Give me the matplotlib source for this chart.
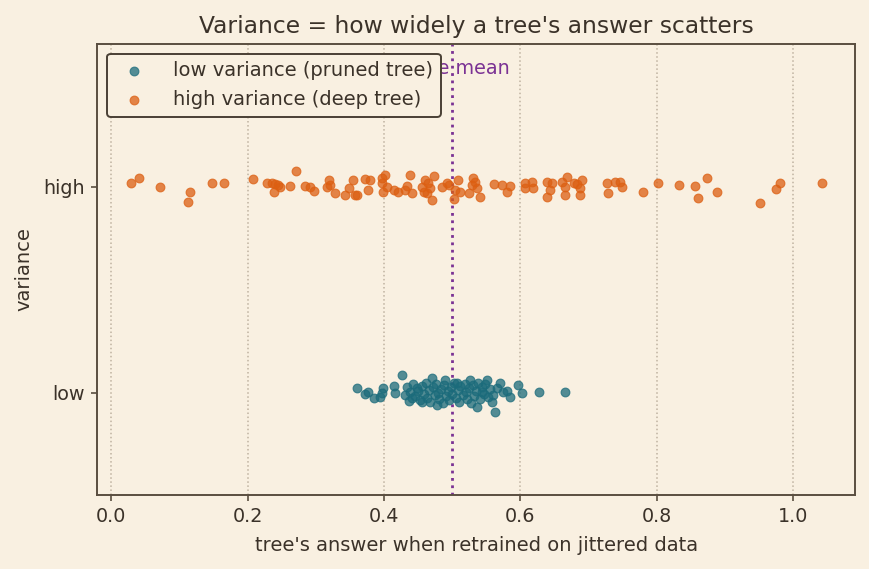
import numpy as np
import matplotlib
matplotlib.use("Agg")
from matplotlib import pyplot as plt

# tree answers (x) and vertical jitter
high_x = [0.029, 0.040, 0.071, 0.115, 0.112, 0.148, 0.165, 0.207, 0.228, 0.236,
          0.240, 0.245, 0.239, 0.248, 0.262, 0.271, 0.284, 0.292, 0.297, 0.319,
          0.321, 0.316, 0.328, 0.343, 0.348, 0.355, 0.358, 0.360, 0.372, 0.379,
          0.377, 0.397, 0.402, 0.397, 0.404, 0.399, 0.414, 0.421, 0.431, 0.438,
          0.441, 0.434, 0.456, 0.460, 0.463, 0.468, 0.470, 0.473, 0.465, 0.458,
          0.485, 0.492, 0.502, 0.504, 0.495, 0.509, 0.512, 0.524, 0.529, 0.531,
          0.536, 0.541, 0.534, 0.561, 0.573, 0.580, 0.585, 0.607, 0.617, 0.607,
          0.619, 0.639, 0.646, 0.644, 0.639, 0.661, 0.668, 0.666, 0.666, 0.678,
          0.683, 0.690, 0.688, 0.688, 0.727, 0.729, 0.739, 0.746, 0.749, 0.780,
          0.801, 0.832, 0.856, 0.874, 0.888, 0.860, 0.951, 0.975, 0.980, 1.043]
high_j = [0.021, 0.045, -0.001, -0.026, -0.071, 0.018, 0.018, 0.037, 0.021, 0.021,
          0.015, 0.010, -0.023, 0.001, 0.005, 0.078, 0.005, -0.001, -0.019, 0.034,
          0.010, -0.003, -0.031, -0.039, -0.006, 0.031, -0.039, -0.039, 0.037, 0.031,
          -0.015, 0.042, 0.058, 0.018, 0.001, -0.023, -0.015, -0.023, -0.015, 0.058,
          -0.031, 0.005, 0.001, 0.034, -0.031, -0.006, -0.063, 0.053, 0.018, -0.023,
          0.001, 0.018, -0.060, -0.015, 0.010, 0.034, -0.023, -0.031, 0.010, 0.042,
          -0.006, -0.047, 0.026, 0.015, 0.010, -0.023, 0.005, 0.018, 0.026, -0.006,
          -0.006, 0.026, 0.018, -0.015, -0.047, 0.026, 0.050, 0.001, -0.039, 0.018,
          0.015, 0.031, -0.039, -0.006, 0.018, -0.031, 0.026, 0.026, -0.001, -0.023,
          0.018, 0.010, 0.005, 0.042, -0.023, -0.055, -0.076, -0.011, 0.021, 0.021]

low_x = [0.360, 0.372, 0.377, 0.385, 0.394, 0.399, 0.397, 0.414, 0.416, 0.426,
         0.438, 0.441, 0.448, 0.456, 0.470, 0.478, 0.490, 0.507, 0.526, 0.551,
         0.570, 0.536, 0.558, 0.563, 0.585, 0.597, 0.602, 0.627, 0.666, 0.575,
         0.544, 0.430, 0.433, 0.437, 0.442, 0.445, 0.449, 0.452, 0.455, 0.458,
         0.461, 0.463, 0.466, 0.468, 0.471, 0.474, 0.476, 0.479, 0.481, 0.484,
         0.486, 0.488, 0.491, 0.493, 0.495, 0.498, 0.500, 0.503, 0.505, 0.508,
         0.510, 0.512, 0.515, 0.518, 0.520, 0.522, 0.525, 0.527, 0.530, 0.532,
         0.535, 0.538, 0.540, 0.543, 0.546, 0.548, 0.552, 0.555, 0.560, 0.565,
         0.580]
low_j = [0.023, -0.006, 0.006, -0.026, -0.018, 0.023, -0.002, 0.035, -0.002, 0.087,
         0.006, -0.026, 0.023, -0.042, 0.071, -0.058, 0.063, 0.047, 0.063, 0.063,
         0.047, -0.066, -0.042, -0.091, -0.018, 0.039, -0.002, 0.006, 0.006, 0.006,
         0.006, -0.010, 0.030, -0.040, 0.045, -0.015, 0.010, -0.035, 0.035, -0.005,
         0.050, -0.025, 0.015, -0.045, 0.030, -0.010, 0.045, 0.000, -0.030, 0.020,
         -0.050, 0.040, -0.015, 0.010, -0.035, 0.030, -0.005, 0.050, -0.025, 0.015,
         -0.045, 0.035, -0.010, 0.045, 0.005, -0.030, 0.025, -0.050, 0.040, -0.015,
         0.010, 0.050, -0.030, 0.030, -0.005, 0.045, -0.020, 0.020, -0.010, 0.025,
         0.010]

categories = ["low", "high"]
true_mean = 0.5
xticks = [0.0, 0.2, 0.4, 0.6, 0.8, 1.0]

bg = "#f9f0e1"
ink = "#3b3229"
teal = "#1b6b7b"
orange = "#dc5f12"
purple = "#7b3294"

fig, ax = plt.subplots(figsize=(8.7, 5.69), dpi=100)
fig.patch.set_facecolor(bg)
ax.set_facecolor(bg)

ax.scatter(low_x, np.array(low_j) + 0, s=40, color=teal, alpha=0.75,
           edgecolor=teal, linewidth=0.8, label="low variance (pruned tree)", zorder=3)
ax.scatter(high_x, np.array(high_j) + 1, s=40, color=orange, alpha=0.75,
           edgecolor=orange, linewidth=0.8, label="high variance (deep tree)", zorder=3)

# mean line + label (the legend sits on top of part of the label, as in the original)
ax.axvline(true_mean, color=purple, linestyle=":", linewidth=2, zorder=2)
ax.text(0.584, 1.575, "true mean", color=purple, fontsize=13.8, ha="right", va="center")

ax.set_xlim(-0.0205, 1.091)
ax.set_ylim(-0.495, 1.694)
ax.set_xticks(xticks)
ax.set_yticks([0, 1])
ax.set_yticklabels(categories)
ax.grid(axis="x", linestyle=":", color="#bfb2a0", linewidth=1.1)
ax.set_axisbelow(True)

for s in ax.spines.values():
    s.set_color("#5a4e40")
    s.set_linewidth(1.4)
ax.tick_params(colors=ink, labelsize=13.8, length=4.3, width=1.2, pad=4.5, color="#5a4e40")

ax.set_title("Variance = how widely a tree's answer scatters", fontsize=16.8, color=ink, pad=8)
ax.set_xlabel("tree's answer when retrained on jittered data", fontsize=14, color=ink, labelpad=7)
ax.set_ylabel("variance", fontsize=14, color=ink, labelpad=7)

leg = ax.legend(loc="upper left", fontsize=14, facecolor=bg, edgecolor="#4a4035",
                framealpha=1, labelcolor=ink, handletextpad=1.0)
leg.set_zorder(5)
leg.get_frame().set_linewidth(1.4)

plt.subplots_adjust(left=0.112, right=0.983, top=0.923, bottom=0.13)
plt.savefig("out.png", dpi=100, facecolor=bg)
